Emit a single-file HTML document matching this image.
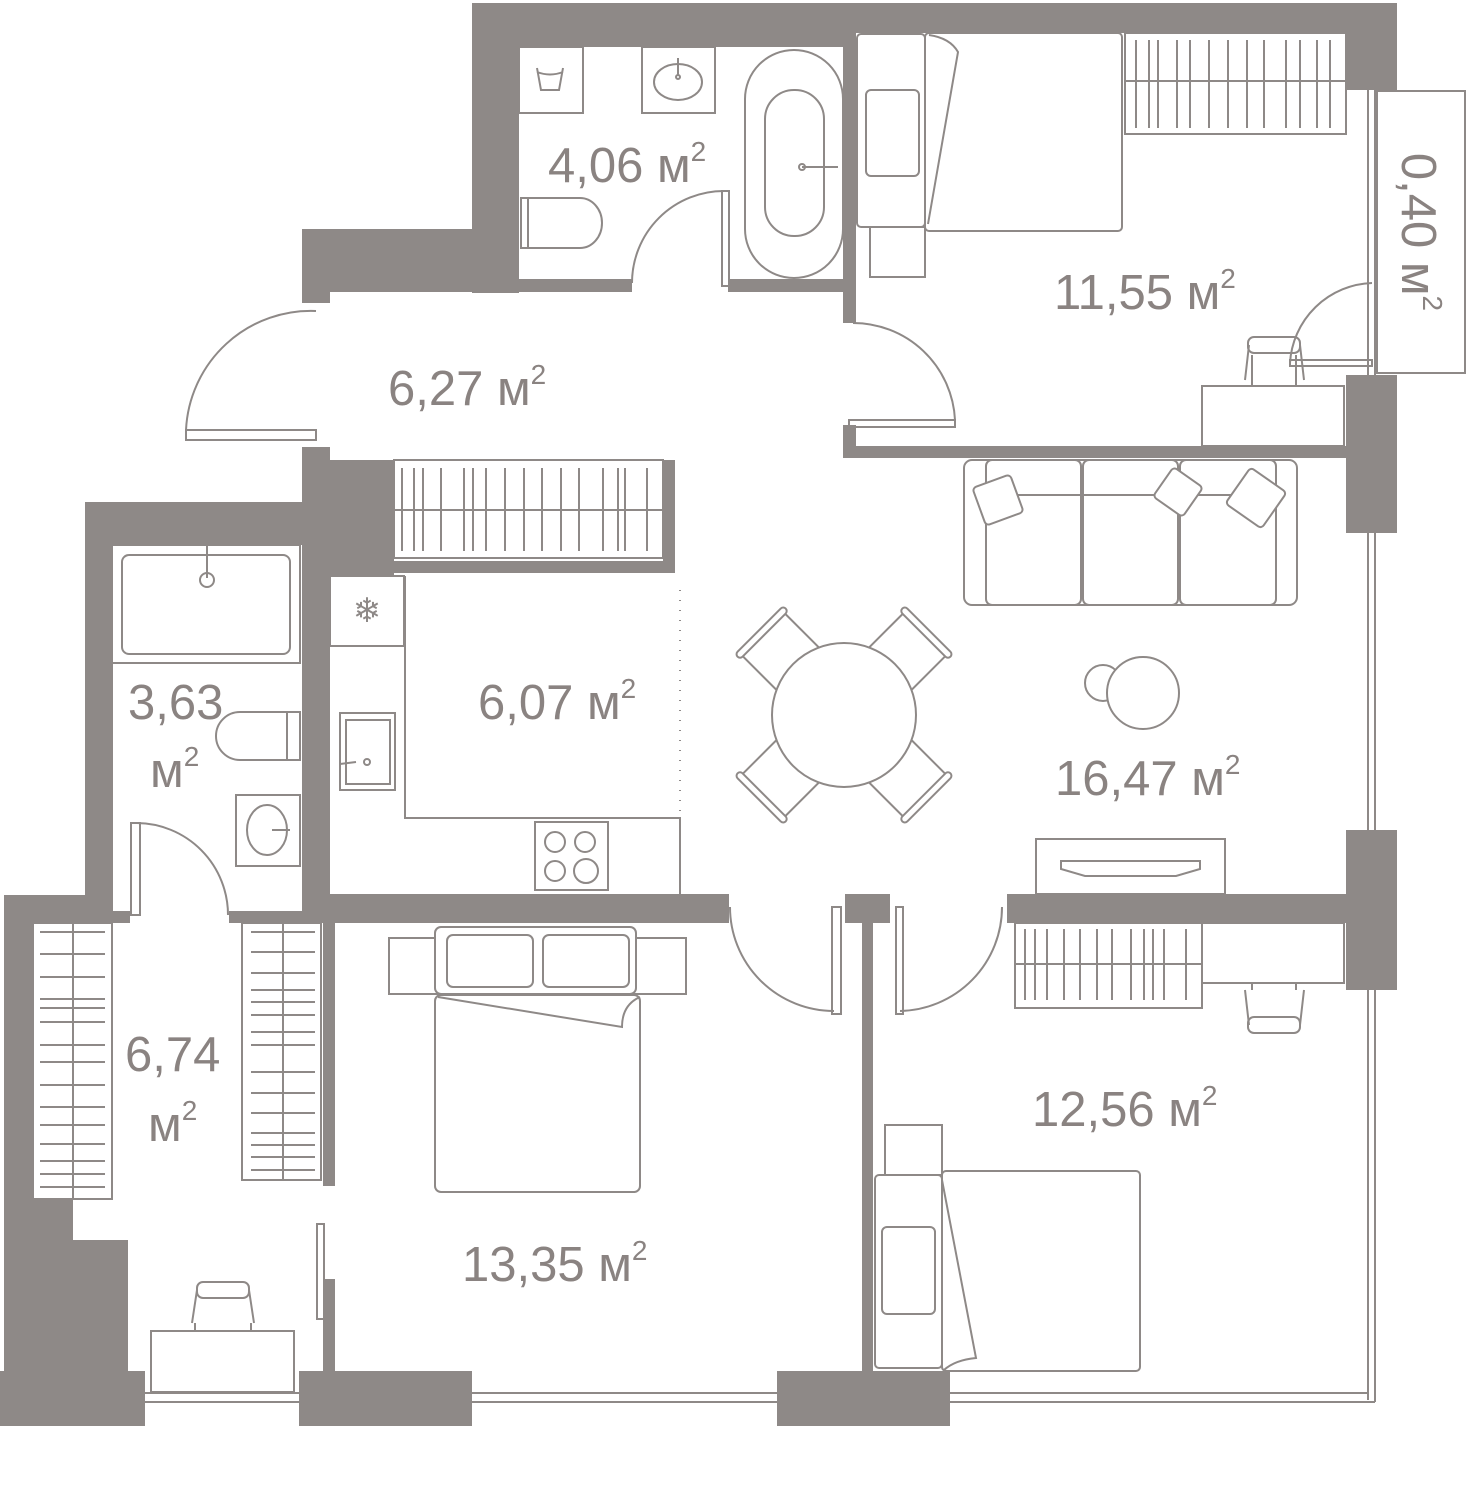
<!DOCTYPE html>
<html><head><meta charset="utf-8"><style>
html,body{margin:0;padding:0;background:#fff;}
svg{display:block;}
text{font-family:"Liberation Sans",sans-serif;fill:#8a8381;}
</style></head><body>
<svg width="1481" height="1500" viewBox="0 0 1481 1500" xmlns="http://www.w3.org/2000/svg">
<g fill="none" stroke="#8e8987" stroke-width="2">
<line x1="1368" y1="90" x2="1368" y2="1400"/>
<line x1="1375" y1="90" x2="1375" y2="1402"/>
<line x1="145" y1="1393" x2="1368" y2="1393"/>
<line x1="145" y1="1402" x2="1375" y2="1402"/>
<rect x="1377" y="91" width="88" height="282" fill="#fff"/>
</g>
<g fill="#8e8987">
<rect x="472" y="3" width="925" height="30"/>
<rect x="472" y="3" width="384" height="44"/>
<rect x="472" y="3" width="47" height="290"/>
<rect x="302" y="229" width="217" height="63"/>
<rect x="302" y="290" width="28" height="13"/>
<rect x="519" y="279" width="113" height="13"/>
<rect x="728" y="279" width="128" height="13"/>
<rect x="843" y="33" width="13" height="290"/>
<rect x="843" y="425" width="13" height="33"/>
<rect x="843" y="446" width="503" height="12"/>
<rect x="1346" y="3" width="51" height="87"/>
<rect x="1346" y="375" width="51" height="158"/>
<rect x="302" y="447" width="28" height="128"/>
<rect x="302" y="460" width="92" height="115"/>
<rect x="394" y="561" width="281" height="12"/>
<rect x="663" y="460" width="12" height="113"/>
<rect x="85" y="502" width="217" height="43"/>
<rect x="85" y="502" width="28" height="421"/>
<rect x="302" y="575" width="28" height="348"/>
<rect x="330" y="894" width="399" height="29"/>
<rect x="112" y="911" width="18" height="12"/>
<rect x="229" y="911" width="73" height="12"/>
<rect x="4" y="895" width="81" height="28"/>
<rect x="4" y="895" width="29" height="304"/>
<rect x="4" y="1199" width="69" height="41"/>
<rect x="4" y="1240" width="124" height="131"/>
<rect x="0" y="1371" width="145" height="55"/>
<rect x="323" y="923" width="12" height="263"/>
<rect x="323" y="1279" width="12" height="92"/>
<rect x="299" y="1371" width="173" height="55"/>
<rect x="845" y="894" width="45" height="29"/>
<rect x="862" y="923" width="11" height="448"/>
<rect x="777" y="1371" width="173" height="55"/>
<rect x="1007" y="894" width="339" height="29"/>
<rect x="1346" y="830" width="51" height="160"/>
</g>
<g fill="none" stroke="#8e8987" stroke-width="2">
<rect x="519" y="47" width="64" height="66"/>
<path d="M537 68 L541 90 L559 90 L563 68 M537 72 Q550 77 563 72"/>
<rect x="642" y="47" width="73" height="66"/>
<ellipse cx="678" cy="82" rx="24" ry="18"/>
<line x1="678" y1="58" x2="678" y2="76"/><circle cx="678" cy="77" r="2"/>
<path d="M521 198 L580 198 A22 25 0 0 1 580 248 L521 248 Z"/><line x1="528" y1="198" x2="528" y2="248"/>
<rect x="745" y="50" width="98" height="228" rx="49"/>
<rect x="765" y="90" width="59" height="146" rx="29"/>
<line x1="802" y1="167" x2="838" y2="167"/><circle cx="802" cy="167" r="3"/>
<rect x="722" y="191" width="7" height="95"/>
<path d="M724 191 A92 92 0 0 0 632 283"/>
<rect x="186" y="430" width="130" height="10"/>
<path d="M316 311 A125 125 0 0 0 186 430"/>
<rect x="849" y="420" width="106" height="7"/>
<path d="M853 323 A102 102 0 0 1 955 420"/>
<rect x="857" y="34" width="68" height="193" rx="4"/>
<rect x="870" y="227" width="55" height="50"/>
<rect x="866" y="90" width="53" height="86" rx="5"/>
<rect x="925" y="33" width="197" height="198" rx="4"/>
<path d="M929 35 Q950 38 958 52 L928 224"/>
<rect x="1125" y="33" width="221" height="101"/>
<line x1="1125" y1="81" x2="1346" y2="81"/>
<path d="M1136 40V128M1149 40V128M1158 40V128M1177 40V128M1190 40V128M1209 40V128M1228 40V128M1247 40V128M1264 40V128M1286 40V128M1300 40V128M1317 40V128M1330 40V128"/>
<rect x="1202" y="386" width="142" height="60"/>
<rect x="1248" y="337" width="52" height="16" rx="6"/>
<path d="M1249 345 L1245 380 M1300 345 L1304 380 M1252 355 L1252 386 M1296 355 L1296 386"/>
<rect x="1290" y="360" width="82" height="6"/>
<path d="M1372 283 A85 85 0 0 0 1290 363"/>
<rect x="394" y="460" width="269" height="98"/>
<line x1="394" y1="510" x2="663" y2="510"/>
<path d="M402 468V551M414 468V551M423 468V551M441 468V551M464 468V551M473 468V551M486 468V551M505 468V551M524 468V551M542 468V551M561 468V551M579 468V551M603 468V551M618 468V551M625 468V551M647 468V551"/>
<rect x="330" y="576" width="74" height="70"/>
<text x="367" y="622" font-size="34" text-anchor="middle" style="fill:#8e8987;stroke:none">❄</text>
<path d="M405 576 V818 H680 V894"/>
<line x1="330" y1="646" x2="404" y2="646"/>
<rect x="340" y="713" width="55" height="77"/><rect x="346" y="720" width="44" height="64"/>
<circle cx="367" cy="762" r="3"/><line x1="340" y1="764" x2="356" y2="762"/>
<rect x="535" y="822" width="73" height="68"/>
<circle cx="555" cy="842" r="10"/><circle cx="585" cy="842" r="10"/><circle cx="555" cy="871" r="10"/><circle cx="586" cy="871" r="12"/>
<line x1="680" y1="590" x2="680" y2="818" stroke-dasharray="1 9"/>
<rect x="112" y="545" width="188" height="118"/>
<rect x="122" y="555" width="168" height="99" rx="7"/>
<line x1="207" y1="545" x2="207" y2="578"/><circle cx="207" cy="580" r="7"/>
<path d="M300 712 L240 712 A24 24 0 0 0 240 760 L300 760 Z"/><line x1="287" y1="712" x2="287" y2="760"/>
<rect x="236" y="795" width="64" height="71"/>
<ellipse cx="267" cy="830" rx="20" ry="25"/><line x1="272" y1="830" x2="290" y2="830"/>
<rect x="131" y="823" width="9" height="92"/>
<path d="M137 823 A92 92 0 0 1 228 915"/>
<rect x="33" y="923" width="79" height="276"/>
<line x1="73" y1="923" x2="73" y2="1199"/>
<path d="M40 932H105M40 954H105M40 977H105M40 999H105M40 1008H105M40 1022H105M40 1045H105M40 1062H105M40 1085H105M40 1107H105M40 1125H105M40 1144H105M40 1161H105M40 1174H105M40 1187H105"/>
<rect x="242" y="923" width="79" height="257"/>
<line x1="283" y1="923" x2="283" y2="1180"/>
<path d="M251 932H315M251 952H315M251 973H315M251 990H315M251 1002H315M251 1015H315M251 1032H315M251 1045H315M251 1072H315M251 1093H315M251 1113H315M251 1133H315M251 1145H315M251 1157H315M251 1170H315"/>
<rect x="317" y="1224" width="7" height="95"/>
<rect x="151" y="1331" width="143" height="61"/>
<rect x="197" y="1282" width="52" height="16" rx="6"/>
<path d="M197 1290 L192 1323 M249 1290 L254 1323 M195 1323 L195 1331 M251 1323 L251 1331"/>
<rect x="389" y="938" width="297" height="56"/>
<rect x="435" y="927" width="201" height="67" rx="6" fill="#fff"/>
<rect x="447" y="935" width="86" height="52" rx="6"/>
<rect x="543" y="935" width="86" height="52" rx="6"/>
<rect x="435" y="995" width="205" height="197" rx="6"/>
<path d="M438 997 L622 1027 Q622 1005 640 997"/>
<rect x="832" y="907" width="9" height="107"/>
<path d="M730 907 A104 104 0 0 0 834 1011"/>
<rect x="896" y="907" width="7" height="107"/>
<path d="M1002 907 A104 104 0 0 1 900 1011"/>
<rect x="1036" y="839" width="189" height="55"/>
<path d="M1061 861 H1200 V869 L1176 876 H1085 L1061 869 Z"/>
<rect x="964" y="460" width="333" height="145" rx="8"/>
<rect x="986" y="460" width="95" height="145" rx="6"/>
<rect x="1083" y="460" width="95" height="145" rx="6"/>
<rect x="1180" y="460" width="96" height="145" rx="6"/>
<line x1="986" y1="495" x2="1276" y2="495"/>
<g fill="#fff">
<rect x="-20" y="-20" width="40" height="40" rx="4" transform="translate(998,500) rotate(-20)"/>
<rect x="-18" y="-18" width="36" height="36" rx="4" transform="translate(1178,492) rotate(35)"/>
<rect x="-22" y="-22" width="44" height="44" rx="4" transform="translate(1256,498) rotate(35)"/>
</g>
<g transform="translate(844,715)">
<g transform="rotate(-45)"><rect x="-30" y="-114" width="60" height="60"/><rect x="-34" y="-120" width="68" height="7" rx="3.5" fill="#fff"/></g>
<g transform="rotate(45)"><rect x="-30" y="-114" width="60" height="60"/><rect x="-34" y="-120" width="68" height="7" rx="3.5" fill="#fff"/></g>
<g transform="rotate(135)"><rect x="-30" y="-114" width="60" height="60"/><rect x="-34" y="-120" width="68" height="7" rx="3.5" fill="#fff"/></g>
<g transform="rotate(-135)"><rect x="-30" y="-114" width="60" height="60"/><rect x="-34" y="-120" width="68" height="7" rx="3.5" fill="#fff"/></g>
<circle cx="0" cy="0" r="72" fill="#fff"/>
</g>
<circle cx="1103" cy="683" r="18"/>
<circle cx="1143" cy="693" r="36" fill="#fff"/>
<rect x="1015" y="923" width="187" height="85"/>
<line x1="1015" y1="964" x2="1202" y2="964"/>
<path d="M1025 929V1000M1035 929V1000M1047 929V1000M1064 929V1000M1080 929V1000M1097 929V1000M1112 929V1000M1131 929V1000M1144 929V1000M1153 929V1000M1164 929V1000M1186 929V1000"/>
<rect x="1202" y="923" width="142" height="60"/>
<rect x="1248" y="1017" width="52" height="16" rx="6"/>
<path d="M1249 1025 L1245 990 M1300 1025 L1304 990 M1252 983 L1252 990 M1296 983 L1296 990"/>
<rect x="885" y="1125" width="57" height="50"/>
<rect x="875" y="1175" width="67" height="193" rx="4" fill="#fff"/>
<rect x="882" y="1227" width="53" height="87" rx="5"/>
<rect x="942" y="1171" width="198" height="200" rx="4"/>
<path d="M942 1180 L976 1358 Q955 1360 944 1370"/>
</g>
<g>
<text x="548" y="182" font-size="49">4,06 м<tspan font-size="28" dy="-21">2</tspan></text>
<text x="388" y="405" font-size="49">6,27 м<tspan font-size="28" dy="-21">2</tspan></text>
<text x="1054" y="309" font-size="49">11,55 м<tspan font-size="28" dy="-21">2</tspan></text>
<text transform="translate(1402,232) rotate(90)" text-anchor="middle" font-size="49">0,40 м<tspan font-size="28" dy="-21">2</tspan></text>
<text x="478" y="719" font-size="49">6,07 м<tspan font-size="28" dy="-21">2</tspan></text>
<text x="128" y="719" font-size="49">3,63</text>
<text x="150" y="787" font-size="49">м<tspan font-size="28" dy="-21">2</tspan></text>
<text x="1055" y="795" font-size="49">16,47 м<tspan font-size="28" dy="-21">2</tspan></text>
<text x="125" y="1071" font-size="49">6,74</text>
<text x="148" y="1141" font-size="49">м<tspan font-size="28" dy="-21">2</tspan></text>
<text x="1032" y="1126" font-size="49">12,56 м<tspan font-size="28" dy="-21">2</tspan></text>
<text x="462" y="1281" font-size="49">13,35 м<tspan font-size="28" dy="-21">2</tspan></text>
</g>
</svg>
</body></html>
